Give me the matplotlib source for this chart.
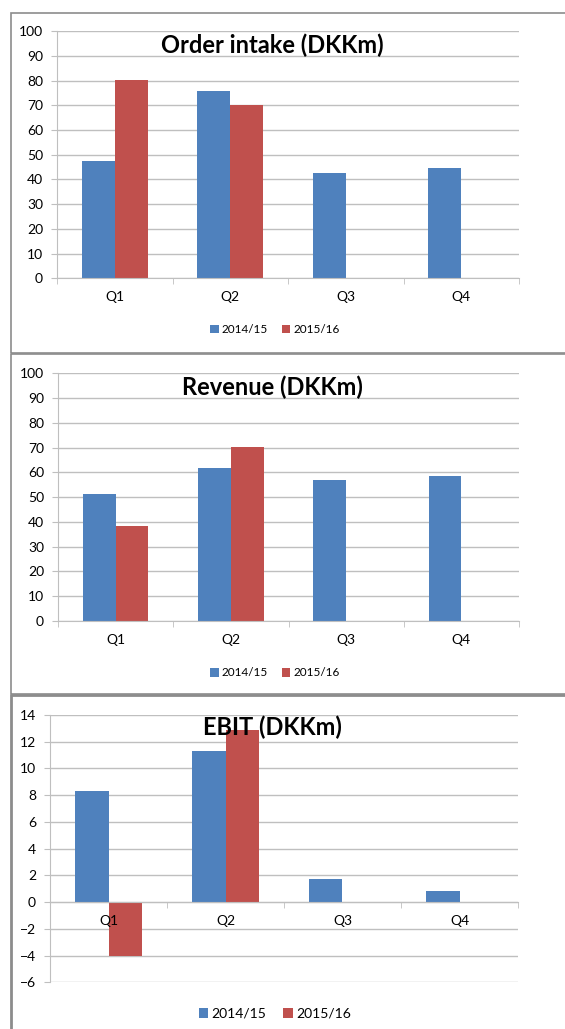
import numpy as np
import matplotlib
matplotlib.use('Agg')
import matplotlib.pyplot as plt
from matplotlib.patches import Rectangle

plt.rcParams['font.family'] = ['Lato', 'DejaVu Sans']

# data
quarters = ['Q1', 'Q2', 'Q3', 'Q4']
series = ['2014/15', '2015/16']
order_1415 = [47.4, 76.0, 42.7, 44.5]
order_1516 = [80.4, 70.3]
revenue_1415 = [51.4, 61.8, 57.0, 58.6]
revenue_1516 = [38.2, 70.4]
ebit_1415 = [8.35, 11.3, 1.7, 0.82]
ebit_1516 = [-4.05, 12.85]

blue = '#4F81BD'
red = '#C0504D'
grid_c = '#bfbfbf'

W, H = 565, 1029
fig = plt.figure(figsize=(W / 100, H / 100), dpi=100)


def px_axes(left, top, right, bottom):
    return fig.add_axes([left / W, 1 - bottom / H, (right - left) / W, (bottom - top) / H])


def border(x0, y0, x1, y1, lw=1.2):
    fig.patches.append(Rectangle((x0 / W, 1 - y1 / H), (x1 - x0) / W, (y1 - y0) / H,
                                 transform=fig.transFigure, fill=False,
                                 edgecolor='#8c8c8c', lw=lw, zorder=0))


def panel(box, s1, s2, ylim, step, title, title_y, leg_y, fsize, lsize):
    ax = px_axes(*box)
    x = np.arange(len(quarters))
    w = 0.285
    yt = np.arange(ylim[0], ylim[1] + step, step)
    # gridlines drawn by hand so the tick labels can sit above the bars
    for v in yt:
        ax.axhline(v, color=grid_c, lw=1, zorder=0.5)
    ax.bar(x - w / 2, s1, w, color=blue, label=series[0], zorder=2)
    ax.bar(x[:len(s2)] + w / 2, s2, w, color=red, label=series[1], zorder=2)
    ax.set_xlim(-0.5, 3.5)
    ax.set_ylim(*ylim)
    ax.set_yticks(yt)
    ax.set_xticks(x, quarters)
    ax.set_xticks(np.arange(-0.5, 4, 1), minor=True)
    ax.tick_params(axis='x', which='major', length=0, pad=9, labelsize=fsize, colors='#000000')
    ax.tick_params(axis='x', which='minor', length=4, color=grid_c, direction='out')
    ax.tick_params(axis='y', length=4, color=grid_c, pad=6, labelsize=fsize)
    ax.set_axisbelow(False)
    for s in ['top', 'right']:
        ax.spines[s].set_visible(False)
    for s in ['left', 'bottom']:
        ax.spines[s].set_color(grid_c)
    if ylim[0] < 0:
        ax.spines['bottom'].set_position(('data', 0))
    fig.text(272 / W, 1 - title_y / H, title, ha='center', va='center',
             fontsize=17, fontweight='bold', zorder=5)
    ax.legend(loc='center', bbox_to_anchor=(275 / W, 1 - leg_y / H),
              bbox_transform=fig.transFigure, ncol=2, frameon=False,
              handlelength=0.7, handleheight=0.7, handletextpad=0.25,
              columnspacing=1.2, fontsize=lsize)
    return ax


border(11, 13, 575, 353)
border(11, 354, 575, 694)
border(11, 695, 575, 1040, lw=2)

panel((57, 31.3, 519, 278.3), order_1415, order_1516, (0, 100), 10,
      'Order intake (DKKm)', 45, 330, 10, 8.5)
panel((58, 373.3, 519, 621), revenue_1415, revenue_1516, (0, 100), 10,
      'Revenue (DKKm)', 387, 673, 10, 8.5)
panel((50, 715, 518, 982.3), ebit_1415, ebit_1516, (-6, 14), 2,
      'EBIT (DKKm)', 727, 1014, 10, 10)

fig.savefig('out.png', dpi=100)
